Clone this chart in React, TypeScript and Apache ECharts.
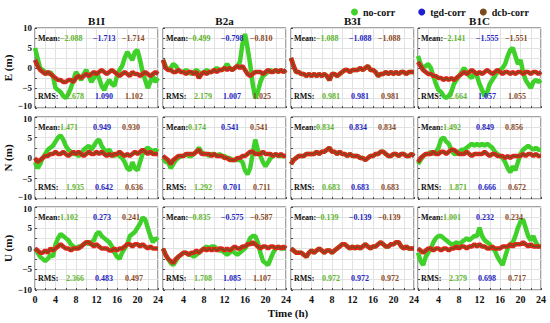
import React, { useEffect, useRef } from "react";
import * as echarts from "echarts";

// time axis (h)
const T = [0, 0.5, 1, 1.5, 2, 2.5, 3, 3.5, 4, 4.5, 5, 5.5, 6, 6.5, 7, 7.5, 8, 8.5, 9, 9.5, 10, 10.5, 11, 11.5, 12, 12.5, 13, 13.5, 14, 14.5, 15, 15.5, 16, 16.5, 17, 17.5, 18, 18.5, 19, 19.5, 20, 20.5, 21, 21.5, 22, 22.5, 23, 23.5, 24];

const columns = ["B1I", "B2a", "B3I", "B1C"];
const rowNames = ["E (m)", "N (m)", "U (m)"];
const seriesNames = ["no-corr", "tgd-corr", "dcb-corr"];

// ---- E row ----
const E_B1I_no = [5, 2.5, 0, -0.5, -1, -1.5, -1, -2, -5, -5.5, -6, -7, -7.5, -6.5, -5, -3, -1, -2, -3, -1.5, -0.5, -2, -3.5, -2.5, -1, -2.5, -4.5, -5.5, -4, -3, -4, -4.5, -2, -0.5, 0.5, 2.5, 4, 3, 2, 4, 4.5, 2, -1, -3, -5, -3.5, -2, -3.5, -2.5];
const E_B1I_dcb = [2, 0.5, -0.5, -1, -1.5, -1, -1.5, -2, -2.5, -3, -3, -3.5, -3.5, -3, -3, -3.5, -2.5, -2, -2.5, -2, -1.5, -2, -1.5, -1, -1.5, -1, -0.5, -1, -1.5, -1, -0.5, -1, -1.5, -2, -1.5, -1, -1.5, -2, -1, -1.5, -1.5, -2, -1.5, -1, -1.5, -2, -1.5, -1, -1.5];
const E_B2a_no = [2, 0.5, -0.5, 0, 1, 0.5, -0.5, -1, -1, -0.5, -1, -1.5, -1, -0.5, -1, -1.5, -1, -0.5, -1, -1, -0.5, 0, -0.5, -0.5, 0, 1, 0, -0.5, 0, 0.5, 1.5, 6, 8.5, 5, 1, -4, -7.5, -6, -3.5, -2, -1.5, -1, -0.5, -1, -0.5, -1, -0.5, -1, -0.5];
const E_B2a_dcb = [2, 0, -0.5, -0.5, -1, -1, -0.5, -1, -1, -1.5, -1, -1, -1.5, -1, -2.5, -1.5, -1, -1.5, -1, -1, -0.5, -1, -0.5, -0.5, 0, -0.5, 0, -0.5, 0, 0.5, 0, 0.5, -0.5, -1.5, -2, -1.5, -1, -1, -1, -1.5, -1, -0.5, -1, -1, -0.5, -1, -0.5, -1, -0.5];
const E_B3I_dcb = [2.5, 0.5, -1, -1, -1.5, -1.5, -2, -1.5, -2, -1.5, -2, -1.5, -2, -1.5, -2, -3, -1.5, -1.5, -2, -1.5, -1, -0.5, -0.5, -1, -0.5, -0.5, -0.5, 0, -0.5, 0, 0.5, -0.5, -0.5, -1, -2, -1.5, -1.5, -1, -1.5, -1, -1.5, -1, -1.5, -1, -1, -1.5, -1, -1, -1];
const E_B1C_no = [3, 1, 0, 0.5, 1, 0, -2, -4, -5.5, -6, -7, -7.5, -7, -6, -4, -3, -2, -1, 0, -1, -2, -2.5, -1, -2, -4, -5.5, -7, -6, -4, -3, -2, -1, -0.5, 0, 1, 3, 4.5, 5, 3, 1, 2, -1, -3, -4, -5, -3.5, -3, -3.5, -3];
const E_B1C_dcb = [1.5, 0.5, -0.5, -1, -1.5, -1.5, -2, -2, -2.5, -2.5, -3, -2.5, -3, -2.5, -3, -2.5, -2, -1.5, -1, -1.5, -1, -0.5, -1, -1.5, -1, -1.5, -1, -0.5, -1, -1.5, -1, -0.5, -1, -1.5, -1, -1, -1.5, -1, -1.5, -1, -1, -1.5, -1, -1, -1.5, -1, -1, -1.5, -1];

// ---- N row ----
const N_B1I_no = [-1, -2.5, -1.5, 0, 1, 2, 2.5, 3, 4, 5, 5.5, 4.5, 3, 2, 1.5, 1, 1, 0.5, 1, 2, 2.5, 3, 2, 3, 4, 4.5, 3, 2, 1.5, 2, 1, 0.5, 1, 0.5, 0, -1, -2.5, -3, -1, -2.5, -3, -1, 1, 2, 2.5, 2, 1.5, 2, 1.5];
const N_B1I_dcb = [0, -1, -0.5, 0, 0.5, 0.5, 1, 1, 1.5, 1, 1, 1.5, 1, 0.5, 1, 1.5, 1, 1.5, 1, 0.5, 1, 1.5, 1, 1, 1.5, 1, 1.5, 1, 0.5, 1, 0.5, 1, 1, 1.5, 1, 0.5, 1, 0.5, 1, 1.5, 1, 1.5, 2, 1.5, 1, 1.5, 1, 1, 1];
const N_B2a_no = [0, -1, -1, -2.5, -1.5, -0.5, 0, 0.5, 0.5, 1, 0.5, 0.5, 1, 1.5, 2.5, 1.5, 1, 1, 0.5, 1, 1, 0.5, 1, 0.5, 0.5, 0, 0, -0.5, -0.5, -0.5, -0.5, -1, -3, -4, -2.5, 1, 4.5, 2, 0.5, -1, -2, -1, 0, 0.5, 1, 0.5, 0.5, 0.5, 0.5];
const N_B2a_dcb = [0.5, 0, -0.5, -1.5, -0.5, 0, 0.5, 0.5, 0.5, 1, 1, 1, 1, 1.5, 2, 1, 1, 1, 1, 0.5, 1, 0.5, 0.5, 0.5, 0, 0, -0.5, -0.5, -0.5, 0, 0, 0.5, 0.5, 1, 1.5, 1.5, 1, 1, 1, 1.5, 1, 1, 1, 0.5, 1, 0.5, 1, 0.5, 0.5];
const N_B3I_dcb = [-1.5, -0.5, 0, 0.5, 0.5, 0.5, 1, 1, 1, 1, 1.5, 1, 1.5, 1.5, 2, 2.5, 1.5, 1.5, 1, 1.5, 1, 1, 0.5, 1, 0.5, 0.5, 0.5, 0, 0, -0.5, 0, 0.5, 0.5, 1, 1, 1.5, 1.5, 1, 0.5, 0.5, 1, 1, 0.5, 1, 1, 0.5, 0.5, 1, 0.5];
const N_B1C_no = [-1.5, -0.5, 0.5, 1, 1, 1.5, 1, 1.5, 2.5, 4.5, 5, 4, 3.5, 2, 1, 1, 1.5, 2, 2, 2.5, 3, 3.5, 3, 3.5, 3, 3.5, 3, 3.5, 3, 2.5, 1.5, 1, 0.5, 0, -1, -2.5, -3.5, -2, -3, -1, 1, 2, 2.5, 3, 2.5, 2, 2.5, 2, 2];
const N_B1C_dcb = [-1, 0, 0.5, 1, 1, 1, 1.5, 1, 1, 1.5, 1.5, 1, 1.5, 2, 2, 1.5, 1, 1, 1, 1.5, 1, 0.5, 1, 1, 1, 1, 1.5, 1, 0.5, 1, 1, 0.5, 0.5, 0.5, 0, 0.5, 0, 0.5, 0.5, 0.5, 0.5, 1, 0.5, 1, 1, 0.5, 1, 0.5, 0.5];

// ---- U row ----
const U_B1I_no = [0, -1, -2, -2.5, -3, -2.5, -1.5, -2, 1, 2.5, 3.5, 3, 2.5, 2, 1, 0.5, 0, 0.5, 0.5, 1, 1.5, 1, 1.5, 2, 3.5, 4, 3, 2.5, 2, 1.5, 0.5, -1, -2, -2.5, -1, 0, 1, 3, 3.5, 4, 5, 6, 7.5, 7, 5, 3, 1.5, 2.5, 2];
const U_B1I_dcb = [0, -0.5, -1, -1, -0.5, -1, 0, -0.5, 0, 0.5, 1, 0.5, 0, 0, -0.5, 0, 0, 0, 0.5, 1, 1.5, 1.5, 1, 0.5, 1, 0.5, 0, 0, 0, -0.5, -0.5, 0, -0.5, 0, 0, 0.5, 1, 1, 0.5, 1, 1, 0.5, 1, 0.5, 0, 0.5, 0, 0, 0];
const U_B2a_no = [0, -1.5, -2.5, -3.5, -4, -3, -2, -1.5, -1, -1, -1.5, -1.5, -2, -1.5, -1, -0.5, 0, 0.5, 0, 0.5, 0.5, 0, -0.5, -0.5, -1, -1.5, -1, -0.5, -1, -1.5, -1, -0.5, 0, 1, 2.5, 3, 3, 1.5, -1, -3, -3.5, -4, -2.5, -1, 0, 0.5, 0, 0, 0];
const U_B2a_dcb = [0, -1.5, -2.5, -3, -3.5, -2.5, -2, -1.5, -1, -1, -1.5, -1, -1, -0.5, -1, -0.5, 0, -0.5, 0, -0.5, 0, -0.5, 0, 0, -0.5, 0, -0.5, 0, 0.5, 0, 0, 0.5, 0.5, 1, 1, 1.5, 1, 0.5, 0, 0.5, 0.5, 0, 0.5, 0.5, 0, 0.5, 0, 0.5, 0];
const U_B3I_dcb = [0, -0.5, -1, -1, -1, -1.5, -2, -1, -0.5, -1, -0.5, 0, -0.5, -1, -0.5, -0.5, -1, -0.5, 0, 0.5, 1, 1, 0.5, 0, 0.5, 0, 0.5, 0, 0.5, 1, 0.5, 0, 0.5, 0.5, 1, 1.5, 1, 0.5, 0.5, 1, 1, 1.5, 1.5, 0.5, 0, 0.5, 0, 0, 0];
const U_B1C_no = [-1, -3, -4, -2, -1, 0, 1.5, 2.5, 3, 3, 2.5, 2, 1.5, 1, 1, 1.5, 1, 1.5, 2, 2.5, 2, 2.5, 3, 3, 5, 3, 2, 1.5, 1, 0, -0.5, -2, -3, -4, -2, 0, 1, 1.5, 3, 5, 6.5, 7, 5, 3, 2, 3, 1.5, 0.5, 0.5];
const U_B1C_dcb = [0, -0.5, -1, -0.5, 0, 0, -0.5, 0, 0, -0.5, 0, 0, -0.5, 0, 0, 0.5, 0, 0.5, 0.5, 0, 0.5, 0.5, 1, 0.5, 1, 0.5, 0.5, 0, 0, 0.5, 0, 0, 0, 0.5, 0.5, 0.5, 1, 0.5, 1, 1, 1, 1.5, 1, 0.5, 1, 0.5, 0.5, 0.5, 0.5];

// statistics text [no-corr, tgd-corr, dcb-corr]
const meanE = [["−2.088", "−1.713", "−1.714"], ["−0.499", "−0.798", "−0.810"], ["−1.088", "−1.088", "−1.088"], ["−2.141", "−1.555", "−1.551"]];
const rmsE = [["2.678", "1.090", "1.102"], ["2.179", "1.007", "1.025"], ["0.981", "0.981", "0.981"], ["2.664", "1.057", "1.055"]];
const meanN = [["1.471", "0.949", "0.930"], ["0.174", "0.541", "0.541"], ["0.834", "0.834", "0.834"], ["1.492", "0.849", "0.856"]];
const rmsN = [["1.935", "0.642", "0.636"], ["1.292", "0.701", "0.711"], ["0.683", "0.683", "0.683"], ["1.871", "0.666", "0.672"]];
const meanU = [["1.102", "0.273", "0.241"], ["−0.835", "−0.575", "−0.587"], ["−0.139", "−0.139", "−0.139"], ["1.001", "0.232", "0.234"]];
const rmsU = [["2.366", "0.483", "0.497"], ["1.708", "1.085", "1.107"], ["0.972", "0.972", "0.972"], ["2.379", "0.698", "0.717"]];

const xTicks = [0, 4, 8, 12, 16, 20, 24];
const yTicks = [-10, -5, 0, 5, 10];

const panelData = [
  [[E_B1I_no, E_B1I_dcb, E_B1I_dcb], [E_B2a_no, E_B2a_dcb, E_B2a_dcb], [E_B3I_dcb, E_B3I_dcb, E_B3I_dcb], [E_B1C_no, E_B1C_dcb, E_B1C_dcb]],
  [[N_B1I_no, N_B1I_dcb, N_B1I_dcb], [N_B2a_no, N_B2a_dcb, N_B2a_dcb], [N_B3I_dcb, N_B3I_dcb, N_B3I_dcb], [N_B1C_no, N_B1C_dcb, N_B1C_dcb]],
  [[U_B1I_no, U_B1I_dcb, U_B1I_dcb], [U_B2a_no, U_B2a_dcb, U_B2a_dcb], [U_B3I_dcb, U_B3I_dcb, U_B3I_dcb], [U_B1C_no, U_B1C_dcb, U_B1C_dcb]],
];
const means = [meanE, meanN, meanU];
const rmss = [rmsE, rmsN, rmsU];

const FONT = "Liberation Serif";
const GREEN = "#3fd12a";
const BLUE = "#1f1fd0";
const RED = "#e3261b";
const BROWN = "#7b4a1c";
const TXT_GREEN = "#5fb52e";
const TXT_BLUE = "#2424c0";
const TXT_BROWN = "#8a4a26";

const LEFTS = [35, 163, 291, 418];
const WIDTH = 123;
const TOPS = [28, 117, 207];
const HEIGHTS = [80, 82, 83];

function buildOption() {
  const grid: any[] = [];
  const xAxis: any[] = [];
  const yAxis: any[] = [];
  const series: any[] = [];
  const graphic: any[] = [];
  let idx = 0;
  for (let r = 0; r < 3; r++) {
    for (let c = 0; c < 4; c++) {
      grid.push({
        left: LEFTS[c], top: TOPS[r], width: WIDTH, height: HEIGHTS[r],
        show: true, borderColor: "#4a4a4a", borderWidth: 1, backgroundColor: "#fff",
      });
      xAxis.push({
        type: "value", gridIndex: idx, min: 0, max: 24, interval: 2,
        axisLine: { show: false, onZero: false },
        axisTick: { show: true, inside: true, length: 2, lineStyle: { color: "#4a4a4a" } },
        splitLine: { show: true, lineStyle: { color: "#e2e2e2", width: 1 } },
        axisLabel: {
          show: r === 2, margin: 4,
          fontFamily: FONT, fontWeight: "bold", fontSize: 10, color: "#111",
          formatter: (v: number) => (xTicks.includes(v) && (c === 0 || v !== 0) ? String(v) : ""),
        },
      });
      const rr = r;
      yAxis.push({
        type: "value", gridIndex: idx, min: -10, max: 10, interval: 2.5,
        name: c === 0 ? rowNames[r] : "", nameLocation: "middle", nameGap: 22, nameRotate: 90,
        nameTextStyle: { fontFamily: FONT, fontWeight: "bold", fontSize: 11, color: "#111" },
        axisLine: { show: false, onZero: false },
        axisTick: { show: true, inside: true, length: 2, lineStyle: { color: "#4a4a4a" } },
        splitLine: { show: true, lineStyle: { color: "#e2e2e2", width: 1 } },
        axisLabel: {
          show: c === 0, margin: 3,
          fontFamily: FONT, fontWeight: "bold", fontSize: 9, color: "#111",
          formatter: (v: number) => {
            if (!yTicks.includes(v)) return "";
            const t = v < 0 ? "−" + Math.abs(v) : String(v);
            if (v === -10 && rr < 2) return "{lo|" + t + "}";
            if (v === 10 && rr > 0) return "{hi|" + t + "}";
            return t;
          },
          rich: {
            lo: { fontFamily: FONT, fontWeight: "bold", fontSize: 9, color: "#111", padding: [0, 0, 4, 0] },
            hi: { fontFamily: FONT, fontWeight: "bold", fontSize: 9, color: "#111", padding: [4, 0, 0, 0] },
          },
        },
      });
      const d = panelData[r][c];
      const toPts = (arr: number[]) => arr.map((v, i) => [T[i], v]);
      series.push({
        name: seriesNames[2], type: "line", xAxisIndex: idx, yAxisIndex: idx,
        data: toPts(d[2]), showSymbol: false, z: 5, color: BROWN,
        lineStyle: { color: BROWN, width: 1.4 },
      });
      series.push({
        name: seriesNames[0], type: "line", xAxisIndex: idx, yAxisIndex: idx,
        data: toPts(d[0]), showSymbol: false, z: 2, color: GREEN,
        lineStyle: { color: GREEN, width: 4.5 },
      });
      series.push({
        name: seriesNames[1], type: "line", xAxisIndex: idx, yAxisIndex: idx,
        data: toPts(d[1]), showSymbol: false, z: 3, color: BLUE,
        lineStyle: { color: BLUE, width: 3 },
      });
      series.push({
        name: seriesNames[2], type: "line", xAxisIndex: idx, yAxisIndex: idx,
        data: toPts(d[2]), showSymbol: false, z: 4, color: RED,
        lineStyle: { color: RED, width: 4.5 },
      });

      const L = LEFTS[c];
      const top = TOPS[r];
      const bottom = TOPS[r] + HEIGHTS[r];
      const m = means[r][c];
      const s = rmss[r][c];
      const txt = (x: number, y: number, text: string, fill: string) => ({
        type: "text", x, y, z: 100,
        style: { text, fill, font: `bold 8px "${FONT}"`, textVerticalAlign: "middle", verticalAlign: "middle" },
      });
      graphic.push(txt(L + 3, top + 10, "Mean:", "#111"));
      graphic.push(txt(L + 25, top + 10, m[0], TXT_GREEN));
      graphic.push(txt(L + 58, top + 10, m[1], TXT_BLUE));
      graphic.push(txt(L + 87, top + 10, m[2], TXT_BROWN));
      graphic.push(txt(L + 3, bottom - 12, "RMS:", "#111"));
      graphic.push(txt(L + 31, bottom - 12, s[0], TXT_GREEN));
      graphic.push(txt(L + 60, bottom - 12, s[1], TXT_BLUE));
      graphic.push(txt(L + 90, bottom - 12, s[2], TXT_BROWN));
      idx++;
    }
  }
  for (let c = 0; c < 4; c++) {
    graphic.push({
      type: "text", x: LEFTS[c] + WIDTH / 2, y: 21,
      style: { text: columns[c], fill: "#111", font: `bold 11px "${FONT}"`, align: "center", verticalAlign: "middle" },
    });
  }
  graphic.push({
    type: "text", x: 288, y: 313,
    style: { text: "Time (h)", fill: "#111", font: `bold 11px "${FONT}"`, align: "center", verticalAlign: "middle" },
  });

  const legendText = { fontFamily: FONT, fontWeight: "bold", fontSize: 10, color: "#111" };
  return {
    animation: false,
    backgroundColor: "#fff",
    legend: [
      {
        data: [{ name: "no-corr", itemStyle: { color: GREEN } }],
        icon: "circle", itemWidth: 7, itemHeight: 7,
        left: 346, top: 2, textStyle: legendText,
      },
      {
        data: [
          { name: "tgd-corr", itemStyle: { color: BLUE } },
          { name: "dcb-corr", itemStyle: { color: BROWN } },
        ],
        icon: "circle", itemWidth: 7, itemHeight: 7, itemGap: 14,
        right: 16, top: 2, textStyle: legendText,
      },
    ],
    grid, xAxis, yAxis, series, graphic,
  };
}

export default function App() {
  const ref = useRef<HTMLDivElement>(null);
  useEffect(() => {
    if (!ref.current) return;
    const chart = echarts.init(ref.current, null, { renderer: "svg" });
    chart.setOption(buildOption() as any);
    return () => chart.dispose();
  }, []);
  return <div ref={ref} style={{ width: 550, height: 323, position: "absolute", left: 0, top: 0 }} />;
}
